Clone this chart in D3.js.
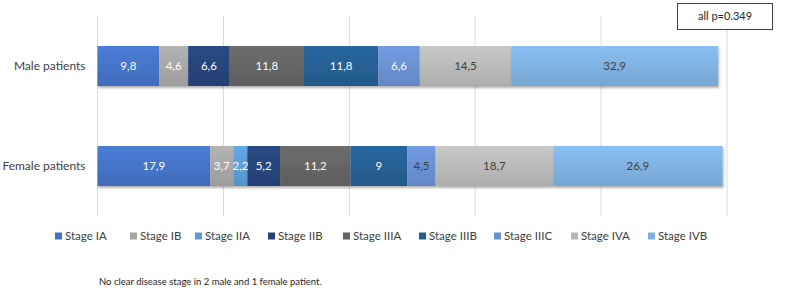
<!DOCTYPE html>
<html>
<head>
<meta charset="utf-8">
<script src="https://cdn.jsdelivr.net/npm/d3@7"></script>
<style>
  body { margin: 0; background: #fff; }
  text { font-family: Lato, "Open Sans", sans-serif; }
</style>
</head>
<body>
<svg id="chart" width="790" height="293"></svg>
<script>
// Dữ liệu
const groups = ["Male patients", "Female patients"];
const stages = ["Stage IA", "Stage IB", "Stage IIA", "Stage IIB", "Stage IIIA", "Stage IIIB", "Stage IIIC", "Stage IVA", "Stage IVB"];
const maleValues = [9.8, 4.6, 0, 6.6, 11.8, 11.8, 6.6, 14.5, 32.9];
const femaleValues = [17.9, 3.7, 2.2, 5.2, 11.2, 9, 4.5, 18.7, 26.9];
const xTicks = [0, 20, 40, 60, 80, 100];
const pText = "all p=0.349";
const note = "No clear disease stage in 2 male and 1 female patient.";

const colors = ["#4472C4", "#A5A5A5", "#5B9BD5", "#264478", "#636363", "#255E91", "#698ED0", "#B7B7B7", "#7CAFDD"];

const svg = d3.select("#chart");
const margin = {top: 16, right: 63, bottom: 77, left: 97.5};
const width = 790 - margin.left - margin.right;
const height = 293 - margin.top - margin.bottom;

const g = svg.append("g").attr("transform", `translate(${margin.left},${margin.top})`);

// Gradient + bóng
const defs = svg.append("defs");
colors.forEach((c, i) => {
  const grad = defs.append("linearGradient")
    .attr("id", "grad" + i).attr("x1", 0).attr("y1", 0).attr("x2", 0).attr("y2", 1);
  grad.append("stop").attr("offset", "0%").attr("stop-color", d3.color(c).brighter(0.25));
  grad.append("stop").attr("offset", "100%").attr("stop-color", d3.color(c).darker(0.15));
});
const shadow = defs.append("filter").attr("id", "shadow").attr("x", "-5%").attr("y", "-20%").attr("width", "110%").attr("height", "150%");
shadow.append("feDropShadow").attr("dx", 1).attr("dy", 2).attr("stdDeviation", 1.2).attr("flood-color", "#000").attr("flood-opacity", 0.3);

const x = d3.scaleLinear().domain([0, 100]).range([0, width]);
const y = d3.scaleBand().domain(groups).range([0, height]).paddingInner(0.6).paddingOuter(0.3);

// Lưới dọc
g.selectAll(".grid")
  .data(xTicks)
  .enter().append("line")
    .attr("x1", d => x(d)).attr("x2", d => x(d))
    .attr("y1", 0).attr("y2", height)
    .attr("stroke", "#d9d9d9").attr("stroke-width", 1);

// Trục Y (nhãn)
g.append("g")
  .call(d3.axisLeft(y).tickSize(0).tickPadding(12))
  .call(a => a.select(".domain").remove())
  .selectAll("text")
    .style("font-size", "12px")
    .attr("fill", "#404040");

// Dữ liệu xếp chồng
const table = groups.map((gname, gi) => {
  const row = {group: gname};
  stages.forEach((s, i) => row[s] = (gi === 0 ? maleValues : femaleValues)[i]);
  return row;
});
const series = d3.stack().keys(stages)(table);

const darkLabels = new Set(["Stage IVA", "Stage IVB"]);

series.forEach((s, i) => {
  g.append("g").selectAll("rect")
    .data(s.filter(d => d[1] - d[0] > 0))
    .enter().append("rect")
      .attr("x", d => x(d[0]))
      .attr("y", d => y(d.data.group))
      .attr("width", d => x(d[1]) - x(d[0]))
      .attr("height", y.bandwidth())
      .attr("fill", `url(#grad${i})`)
      .attr("filter", "url(#shadow)");
});

// Nhãn giá trị
series.forEach((s, i) => {
  g.append("g").selectAll("text")
    .data(s.filter(d => d[1] - d[0] > 0))
    .enter().append("text")
      .attr("x", d => (x(d[0]) + x(d[1])) / 2)
      .attr("y", d => y(d.data.group) + y.bandwidth() / 2)
      .attr("dy", "0.35em")
      .attr("text-anchor", "middle")
      .style("font-size", "11.5px")
      .attr("fill", d => (darkLabels.has(s.key) || (s.key === "Stage IIIC" && d.data.group === "Female patients")) ? "#404040" : "#ffffff")
      .text(d => String(d.data[s.key]).replace(".", ","));
});

// Legend
const legendX = [55, 130, 195, 268, 343, 419, 494, 571, 648];
const legend = svg.append("g").attr("transform", "translate(0,236)");
stages.forEach((s, i) => {
  legend.append("rect")
    .attr("x", legendX[i]).attr("y", -3.5)
    .attr("width", 7).attr("height", 7)
    .attr("fill", colors[i]);
  legend.append("text")
    .attr("x", legendX[i] + 10).attr("y", 0).attr("dy", "0.35em")
    .style("font-size", "11.5px").attr("fill", "#404040")
    .text(s);
});

// Hộp p-value
svg.append("rect")
  .attr("x", 677.5).attr("y", 3.5).attr("width", 95).attr("height", 26)
  .attr("fill", "#fff").attr("stroke", "#404040").attr("stroke-width", 1);
svg.append("text")
  .attr("x", 725).attr("y", 16.5).attr("dy", "0.35em")
  .attr("text-anchor", "middle")
  .style("font-size", "11px").attr("fill", "#262626")
  .text(pText);

// Chú thích
svg.append("text")
  .attr("x", 99).attr("y", 282).attr("dy", "0.35em")
  .style("font-size", "9.5px").attr("fill", "#262626")
  .text(note);
</script>
</body>
</html>
